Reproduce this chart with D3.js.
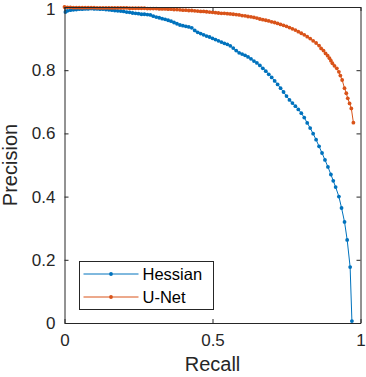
<!DOCTYPE html>
<html lang="en">
	<head>
		<meta charset="utf-8">
		<title>Precision-Recall</title>
		<script src="https://d3js.org/d3.v7.min.js" charset="utf-8"></script>
		<style type="text/css">
		body { margin: 0; background: #fff; }
		.tick text { font-family: "Liberation Sans", Arial, sans-serif; font-size: 17px; fill: #262626; }
		.label { font-family: "Liberation Sans", Arial, sans-serif; font-size: 20px; fill: #262626; }
		.legend-text { font-family: "Liberation Sans", Arial, sans-serif; font-size: 16.5px; fill: #000; }
		</style>
	</head>
	<body>
		<div id="chart"></div>
		<script>
			var width = 366;
			var height = 377;

			var seriesNames = ["Hessian", "U-Net"];
			var seriesColors = ["#0072BD", "#D95319"];
			var xTicks = [0, 0.5, 1];
			var yTicks = [0, 0.2, 0.4, 0.6, 0.8, 1];

			// Hessian: recall, precision
			var hessianRecall = [0.003,0.010,0.020,0.030,0.040,0.050,0.060,0.070,0.080,0.090,0.100,0.110,0.120,0.130,0.140,0.150,0.160,0.170,0.180,0.190,0.200,0.210,0.220,0.230,0.240,0.250,0.260,0.270,0.280,0.290,0.300,0.310,0.320,0.330,0.340,0.350,0.360,0.370,0.380,0.390,0.400,0.410,0.420,0.430,0.440,0.450,0.460,0.470,0.480,0.490,0.500,0.510,0.520,0.530,0.540,0.550,0.560,0.570,0.580,0.590,0.600,0.610,0.620,0.630,0.640,0.650,0.660,0.670,0.680,0.690,0.700,0.710,0.720,0.730,0.740,0.750,0.760,0.770,0.780,0.790,0.800,0.810,0.820,0.830,0.840,0.850,0.860,0.870,0.880,0.890,0.900,0.908,0.916,0.927,0.936,0.946,0.955,0.965,0.971];
			var hessianPrecision = [0.984,0.988,0.990,0.991,0.992,0.993,0.993,0.994,0.994,0.995,0.994,0.994,0.993,0.993,0.992,0.991,0.990,0.989,0.988,0.987,0.986,0.984,0.983,0.981,0.980,0.979,0.977,0.977,0.976,0.975,0.971,0.968,0.966,0.963,0.961,0.958,0.955,0.951,0.947,0.943,0.941,0.939,0.937,0.934,0.926,0.920,0.916,0.912,0.908,0.905,0.901,0.897,0.893,0.889,0.885,0.882,0.877,0.870,0.862,0.855,0.851,0.847,0.842,0.836,0.829,0.823,0.815,0.806,0.797,0.787,0.777,0.766,0.755,0.743,0.731,0.718,0.706,0.696,0.686,0.676,0.664,0.650,0.633,0.617,0.599,0.580,0.559,0.538,0.516,0.494,0.470,0.450,0.430,0.400,0.364,0.320,0.263,0.177,0.006];

			// U-Net: recall, precision
			var unetRecall = [0.000,0.010,0.020,0.030,0.040,0.050,0.060,0.070,0.080,0.090,0.100,0.110,0.120,0.130,0.140,0.150,0.160,0.170,0.180,0.190,0.200,0.210,0.220,0.230,0.240,0.250,0.260,0.270,0.280,0.290,0.300,0.310,0.320,0.330,0.340,0.350,0.360,0.370,0.380,0.390,0.400,0.410,0.420,0.430,0.440,0.450,0.460,0.470,0.480,0.490,0.500,0.510,0.520,0.530,0.540,0.550,0.560,0.570,0.580,0.590,0.600,0.610,0.620,0.630,0.640,0.650,0.660,0.670,0.680,0.690,0.700,0.710,0.720,0.730,0.740,0.750,0.760,0.770,0.780,0.790,0.800,0.810,0.820,0.830,0.840,0.850,0.860,0.867,0.875,0.882,0.889,0.895,0.900,0.905,0.912,0.920,0.927,0.932,0.938,0.946,0.952,0.957,0.963,0.969,0.976];
			var unetPrecision = [1.000,0.999,0.999,0.998,0.998,0.998,0.998,0.998,0.998,0.998,0.998,0.997,0.997,0.997,0.997,0.997,0.997,0.997,0.997,0.997,0.997,0.997,0.996,0.996,0.996,0.996,0.996,0.996,0.995,0.995,0.995,0.995,0.994,0.994,0.994,0.993,0.993,0.992,0.992,0.991,0.990,0.990,0.989,0.989,0.988,0.987,0.986,0.986,0.985,0.984,0.983,0.982,0.981,0.980,0.980,0.979,0.978,0.977,0.976,0.975,0.973,0.972,0.970,0.969,0.967,0.965,0.962,0.960,0.958,0.956,0.953,0.951,0.948,0.945,0.942,0.939,0.935,0.931,0.927,0.922,0.917,0.912,0.906,0.900,0.893,0.886,0.878,0.869,0.862,0.853,0.846,0.838,0.830,0.822,0.814,0.806,0.795,0.783,0.769,0.743,0.727,0.711,0.695,0.679,0.634];

			var series = [
				{ name: seriesNames[0], color: seriesColors[0], values: hessianRecall.map(function(r, i) { return [r, hessianPrecision[i]]; }) },
				{ name: seriesNames[1], color: seriesColors[1], values: unetRecall.map(function(r, i) { return [r, unetPrecision[i]]; }) }
			];

			var plot = { left: 64.5, right: 360.5, top: 7, bottom: 323 };

			var svg = d3.select("#chart")
				.append("svg")
				.attr("width", width)
				.attr("height", height);

			var x = d3.scaleLinear().domain([0, 1]).range([plot.left, plot.right]);
			var y = d3.scaleLinear().domain([0, 1]).range([plot.bottom, plot.top]);

			var axisColor = "#262626";

			// curves
			var line = d3.line()
				.x(function(d) { return x(d[0]); })
				.y(function(d) { return y(d[1]); });

			series.forEach(function(s) {
				var g = svg.append("g");
				g.append("path")
					.datum(s.values)
					.attr("fill", "none")
					.attr("stroke", s.color)
					.attr("stroke-width", 1)
					.attr("d", line);
				g.selectAll("circle")
					.data(s.values)
					.enter().append("circle")
					.attr("cx", function(d) { return x(d[0]); })
					.attr("cy", function(d) { return y(d[1]); })
					.attr("r", 1.9)
					.attr("fill", s.color);
			});

			// axes (MATLAB style: box on, ticks inward)
			var xAxis = svg.append("g")
				.attr("transform", "translate(0," + plot.bottom + ")")
				.call(d3.axisBottom(x).tickValues(xTicks).tickSizeInner(-4).tickSizeOuter(0).tickPadding(9)
					.tickFormat(function(d) { return d; }));
			var yAxis = svg.append("g")
				.attr("transform", "translate(" + plot.left + ",0)")
				.call(d3.axisLeft(y).tickValues(yTicks).tickSizeInner(-4).tickSizeOuter(0).tickPadding(9)
					.tickFormat(function(d) { return d; }));
			var xTop = svg.append("g")
				.attr("transform", "translate(0," + plot.top + ")")
				.call(d3.axisTop(x).tickValues(xTicks).tickSizeInner(-4).tickSizeOuter(0).tickFormat(""));
			var yRight = svg.append("g")
				.attr("transform", "translate(" + plot.right + ",0)")
				.call(d3.axisRight(y).tickValues(yTicks).tickSizeInner(-4).tickSizeOuter(0).tickFormat(""));

			[xAxis, yAxis, xTop, yRight].forEach(function(a) {
				a.attr("font-family", null).attr("font-size", null);
				a.select(".domain").attr("stroke", axisColor).attr("stroke-width", 1);
				a.selectAll(".tick line").attr("stroke", axisColor);
			});
			xAxis.selectAll(".tick text").attr("dy", "0.85em");
			// keep the top label "1" inside the picture
			yAxis.selectAll(".tick text").filter(function(d) { return d === 1; }).attr("dy", "0.42em");

			svg.append("text")
				.attr("class", "label")
				.attr("x", x(0.5))
				.attr("y", 371)
				.attr("text-anchor", "middle")
				.text("Recall");

			svg.append("text")
				.attr("class", "label")
				.attr("transform", "translate(17," + y(0.5) + ") rotate(-90)")
				.attr("text-anchor", "middle")
				.text("Precision");

			// legend
			var legend = svg.append("g").attr("transform", "translate(79.5,261.5)");
			legend.append("rect")
				.attr("width", 134)
				.attr("height", 48)
				.attr("fill", "#fff")
				.attr("stroke", axisColor)
				.attr("stroke-width", 1);
			series.forEach(function(s, i) {
				var row = legend.append("g").attr("transform", "translate(0," + (12.5 + i * 23) + ")");
				row.append("line")
					.attr("x1", 4).attr("x2", 59)
					.attr("stroke", s.color).attr("stroke-width", 1);
				row.append("circle")
					.attr("cx", 31.5).attr("r", 1.9).attr("fill", s.color);
				row.append("text")
					.attr("class", "legend-text")
					.attr("x", 63)
					.attr("dy", "0.35em")
					.text(s.name);
			});
		</script>
	</body>
</html>
